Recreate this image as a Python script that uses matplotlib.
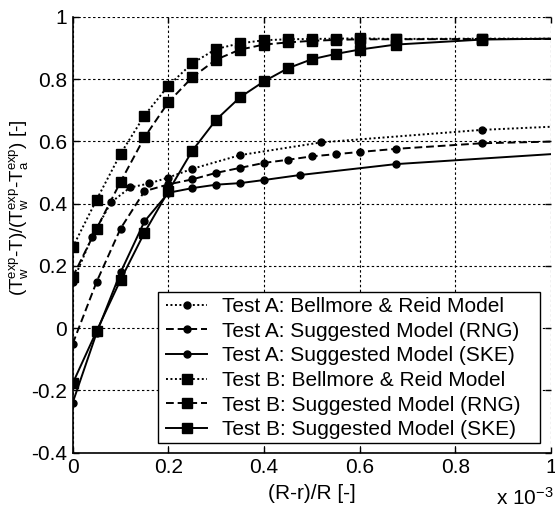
import numpy as np
import matplotlib
matplotlib.use('Agg')
import matplotlib.pyplot as plt
from matplotlib.patches import Rectangle

plt.rcParams['font.family'] = ['Liberation Sans', 'DejaVu Sans']
plt.rcParams['mathtext.default'] = 'regular'

# Test A (x in units of 1e-3)
xa_br = [0, 0.04, 0.08, 0.12, 0.16, 0.2, 0.25, 0.35, 0.52, 0.855, 1.1]
ya_br = [0.148, 0.292, 0.404, 0.452, 0.465, 0.484, 0.512, 0.556, 0.597, 0.637, 0.654]

xa_rng = [0, 0.05, 0.1, 0.15, 0.2, 0.25, 0.3, 0.35, 0.4, 0.45, 0.5, 0.55, 0.6, 0.675, 0.855, 1.1]
ya_rng = [-0.05, 0.149, 0.32, 0.44, 0.462, 0.478, 0.499, 0.515, 0.531, 0.541, 0.552, 0.559,
          0.566, 0.576, 0.594, 0.603]

xa_ske = [0, 0.05, 0.1, 0.15, 0.2, 0.25, 0.3, 0.35, 0.4, 0.475, 0.675, 1.1]
ya_ske = [-0.239, -0.015, 0.179, 0.343, 0.435, 0.45, 0.461, 0.466, 0.476, 0.492, 0.527, 0.569]

# Test B
xb = [0, 0.05, 0.1, 0.15, 0.2, 0.25, 0.3, 0.35, 0.4, 0.45, 0.5, 0.55, 0.6, 0.675, 0.855, 1.1]
yb_br = [0.26, 0.413, 0.56, 0.683, 0.779, 0.851, 0.897, 0.915, 0.925, 0.928, 0.929, 0.930,
         0.931, 0.929, 0.930, 0.930]
yb_rng = [0.165, 0.32, 0.47, 0.613, 0.726, 0.806, 0.863, 0.895, 0.911, 0.918, 0.923, 0.926,
          0.928, 0.928, 0.929, 0.929]
yb_ske = [-0.177, -0.009, 0.155, 0.307, 0.44, 0.57, 0.67, 0.742, 0.793, 0.835, 0.864, 0.881,
          0.895, 0.911, 0.927, 0.932]

labels = ['Test A: Bellmore & Reid Model',
          'Test A: Suggested Model (RNG)',
          'Test A: Suggested Model (SKE)',
          'Test B: Bellmore & Reid Model',
          'Test B: Suggested Model (RNG)',
          'Test B: Suggested Model (SKE)']

dotted = (0, (1, 1.3))
dashed = (0, (4, 2))
fs = 15

fig = plt.figure(figsize=(5.55, 5.11), dpi=100)
ax = fig.add_axes([0.131, 0.114, 0.862, 0.853])

series = [(xa_br, ya_br, dotted, 'o', 5),
          (xa_rng, ya_rng, dashed, 'o', 5),
          (xa_ske, ya_ske, '-', 'o', 5),
          (xb, yb_br, dotted, 's', 7),
          (xb, yb_rng, dashed, 's', 7),
          (xb, yb_ske, '-', 's', 7)]
for (xs, ys, ls, mk, ms), lab in zip(series, labels):
    ax.plot(xs, ys, color='k', linestyle=ls, linewidth=1.4, marker=mk,
            markersize=ms, markerfacecolor='k', markeredgecolor='k', label=lab)

ax.set_xlim(0, 1)
ax.set_ylim(-0.4, 1)
ax.set_xticks(np.arange(0, 1.01, 0.2))
ax.set_xticklabels(['0', '0.2', '0.4', '0.6', '0.8', '1'])
ax.set_yticks(np.arange(-0.4, 1.01, 0.2))
ax.set_yticklabels(['-0.4', '-0.2', '0', '0.2', '0.4', '0.6', '0.8', '1'])
ax.tick_params(direction='in', length=4, width=1, labelsize=fs, top=True, right=True,
               pad=4)
ax.grid(True, color='k', linestyle=(0, (2.2, 2.2)), linewidth=0.8)
for side in ['left', 'bottom']:
    ax.spines[side].set_linewidth(1.2)
for side in ['top', 'right']:
    ax.spines[side].set_visible(False)

ax.set_xlabel('(R-r)/R [-]', fontsize=fs, labelpad=5)
ax.set_ylabel(r'(T$_w^{exp}$-T)/(T$_w^{exp}$-T$_a^{exp}$) [-]', fontsize=13.5)
ax.yaxis.set_label_coords(-0.088, 0.562)
fig.text(0.997, 0.012, r'x 10$^{-3}$', fontsize=fs, ha='right', va='baseline')

# legend: MATLAB style box, wider than its contents
ax.add_patch(Rectangle((0.178, 0.022), 0.798, 0.347, transform=ax.transAxes,
                       facecolor='white', edgecolor='k', linewidth=1.0, zorder=4))
leg = ax.legend(loc='upper left', bbox_to_anchor=(0.196, 0.357), borderaxespad=0,
                fontsize=fs, frameon=False, handlelength=1.95, labelspacing=0.27,
                borderpad=0, handletextpad=0.7)
leg.set_zorder(5)

fig.savefig('out.png', dpi=100)
